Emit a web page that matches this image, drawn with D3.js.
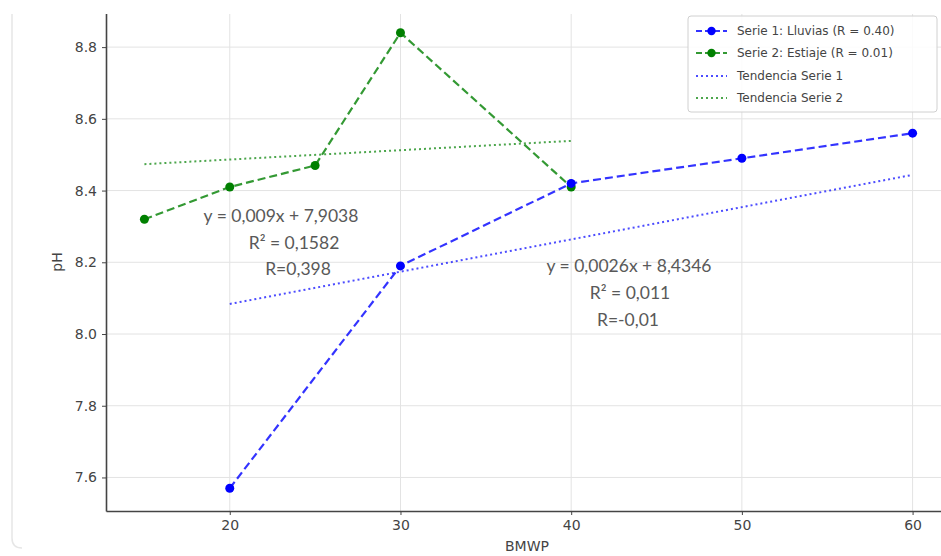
<!DOCTYPE html>
<html>
<head>
<meta charset="utf-8">
<script src="https://cdn.jsdelivr.net/npm/d3@7"></script>
<style>
  html, body { margin: 0; padding: 0; background: #fff; }
  svg { display: block; }
</style>
</head>
<body>
<svg id="chart" width="941" height="556"></svg>
<script>
// Serie 1: Lluvias
const lluviasX = [20, 30, 40, 50, 60];
const lluviasY = [7.57, 8.19, 8.42, 8.49, 8.56];
// Serie 2: Estiaje
const estiajeX = [15, 20, 25, 30, 40];
const estiajeY = [8.32, 8.41, 8.47, 8.84, 8.41];

// Trend lines (slope, intercept, x extent)
const trend1 = { slope: 0.009, intercept: 7.9038, x0: 20, x1: 60 };
const trend2 = { slope: 0.0026, intercept: 8.4346, x0: 15, x1: 40 };

const xTicks = [20, 30, 40, 50, 60];
const yTicks = [7.6, 7.8, 8.0, 8.2, 8.4, 8.6, 8.8];

const legendLabels = [
  "Serie 1: Lluvias (R = 0.40)",
  "Serie 2: Estiaje (R = 0.01)",
  "Tendencia Serie 1",
  "Tendencia Serie 2"
];

const eq1Lines = ["y = 0,009x + 7,9038", "R² = 0,1582", "R=0,398"];
const eq2Lines = ["y = 0,0026x + 8,4346", "R² = 0,011", "R=-0,01"];

const BLUE = "#0000ff";
const GREEN = "#008000";

const svg = d3.select("#chart");

const x = d3.scaleLinear().domain([12.75, 62.25]).range([106, 951]);
const y = d3.scaleLinear().domain([7.5065, 8.9035]).range([511, 10]);

// visible plot area starts a little below the top edge
svg.append("defs").append("clipPath").attr("id", "plotClip")
  .append("rect").attr("x", 0).attr("y", 14).attr("width", 941).attr("height", 542);
const root = svg.append("g").attr("clip-path", "url(#plotClip)");

// faint outer frame on the left
root.append("path")
  .attr("d", "M12,14 L12,538 Q12,548 22,548")
  .attr("fill", "none")
  .attr("stroke", "#e6e6e6")
  .attr("stroke-width", 1.5);

// grid
const grid = root.append("g");
grid.selectAll("line.gx").data(xTicks).join("line")
  .attr("x1", d => x(d)).attr("x2", d => x(d))
  .attr("y1", y.range()[1]).attr("y2", y.range()[0])
  .attr("stroke", "#e3e3e3").attr("stroke-width", 1);
grid.selectAll("line.gy").data(yTicks).join("line")
  .attr("x1", x.range()[0]).attr("x2", x.range()[1])
  .attr("y1", d => y(d)).attr("y2", d => y(d))
  .attr("stroke", "#e3e3e3").attr("stroke-width", 1);

// axes
const xAxis = root.append("g")
  .attr("transform", `translate(0,${y.range()[0]})`)
  .call(d3.axisBottom(x).tickValues(xTicks).tickFormat(d3.format("d"))
    .tickSize(4).tickSizeOuter(0).tickPadding(5));
const yAxis = root.append("g")
  .attr("transform", `translate(${x.range()[0]},0)`)
  .call(d3.axisLeft(y).tickValues(yTicks).tickFormat(d3.format(".1f"))
    .tickSize(4).tickSizeOuter(0).tickPadding(5));

[xAxis, yAxis].forEach(a => {
  a.select(".domain").attr("stroke", "#444").attr("stroke-width", 1.6);
  a.selectAll(".tick line").attr("stroke", "#444").attr("stroke-width", 1);
  a.selectAll(".tick text")
    .attr("fill", "#444")
    .attr("font-family", "DejaVu Sans")
    .attr("font-size", 14);
});

root.append("text")
  .attr("x", 527).attr("y", 551)
  .attr("text-anchor", "middle")
  .attr("font-family", "DejaVu Sans")
  .attr("font-size", 14)
  .attr("fill", "#444")
  .text("BMWP");

root.append("text")
  .attr("transform", "translate(62,262) rotate(-90)")
  .attr("text-anchor", "middle")
  .attr("font-family", "DejaVu Sans")
  .attr("font-size", 14)
  .attr("fill", "#444")
  .text("pH");

// trend lines
const line = d3.line().x(d => x(d[0])).y(d => y(d[1]));
[[trend1, BLUE], [trend2, GREEN]].forEach(([t, c]) => {
  const pts = [t.x0, t.x1].map(v => [v, t.slope * v + t.intercept]);
  root.append("path")
    .attr("d", line(pts))
    .attr("fill", "none")
    .attr("stroke", c)
    .attr("stroke-opacity", 0.7)
    .attr("stroke-width", 2)
    .attr("stroke-dasharray", "2,3");
});

// data series
function series(xs, ys, color) {
  const pts = xs.map((v, i) => [v, ys[i]]);
  root.append("path")
    .attr("d", line(pts))
    .attr("fill", "none")
    .attr("stroke", color)
    .attr("stroke-opacity", 0.8)
    .attr("stroke-width", 2.2)
    .attr("stroke-dasharray", "8,4");
  root.append("g").selectAll("circle").data(pts).join("circle")
    .attr("cx", d => x(d[0]))
    .attr("cy", d => y(d[1]))
    .attr("r", 4.5)
    .attr("fill", color);
}
series(estiajeX, estiajeY, GREEN);
series(lluviasX, lluviasY, BLUE);

// equation annotations
function equation(lines, cx, cys) {
  const g = root.append("g")
    .attr("font-family", "Lato, 'Open Sans', sans-serif")
    .attr("font-size", 17.5)
    .attr("fill", "#595959")
    .attr("text-anchor", "middle");
  lines.forEach((s, i) => {
    g.append("text")
      .attr("x", cx[i]).attr("y", cys[i])
      .attr("dominant-baseline", "central")
      .text(s);
  });
}
equation(eq1Lines, [281, 294, 298], [215, 242, 268]);
equation(eq2Lines, [629, 630, 628], [265, 292, 319]);

// legend
const lg = root.append("g");
lg.append("rect")
  .attr("x", 688).attr("y", 16).attr("width", 249).attr("height", 96)
  .attr("rx", 3)
  .attr("fill", "#fff").attr("fill-opacity", 0.85)
  .attr("stroke", "#d0d0d0");
const rows = [31, 53, 76, 98];
const styles = [
  { c: BLUE, dash: "6,3", marker: true },
  { c: GREEN, dash: "6,3", marker: true },
  { c: BLUE, dash: "2,3", marker: false },
  { c: GREEN, dash: "2,3", marker: false }
];
legendLabels.forEach((lab, i) => {
  const s = styles[i];
  lg.append("line")
    .attr("x1", 696).attr("x2", 727)
    .attr("y1", rows[i]).attr("y2", rows[i])
    .attr("stroke", s.c)
    .attr("stroke-opacity", s.marker ? 0.8 : 0.7)
    .attr("stroke-width", 2)
    .attr("stroke-dasharray", s.dash);
  if (s.marker) {
    lg.append("circle").attr("cx", 711.5).attr("cy", rows[i]).attr("r", 4.2).attr("fill", s.c);
  }
  lg.append("text")
    .attr("x", 737).attr("y", rows[i])
    .attr("dominant-baseline", "central")
    .attr("font-family", "DejaVu Sans")
    .attr("font-size", 12)
    .attr("fill", "#444")
    .text(lab);
});
</script>
</body>
</html>
